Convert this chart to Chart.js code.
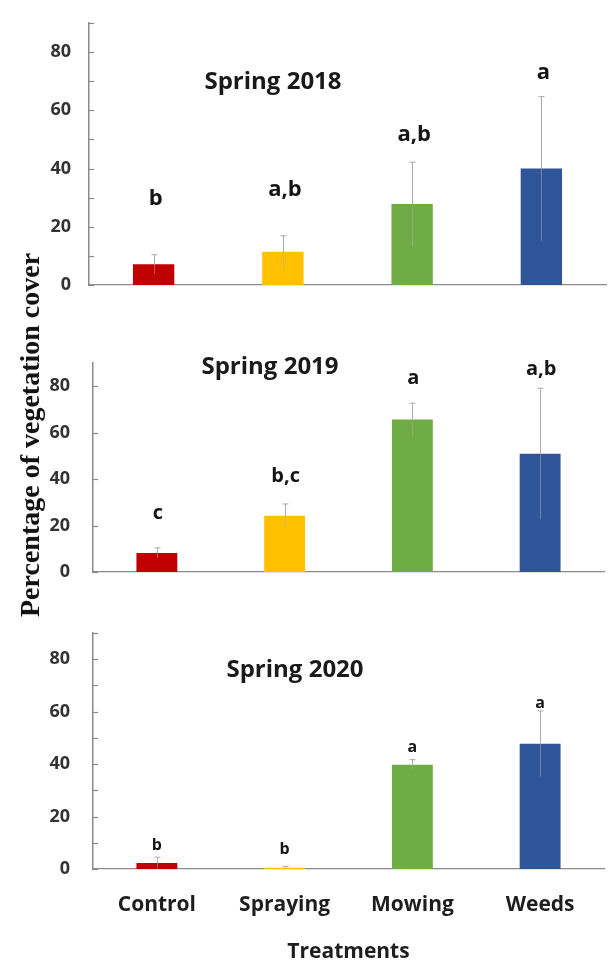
<!DOCTYPE html>
<html>
<head>
<meta charset="utf-8">
<script src="https://cdn.jsdelivr.net/npm/chart.js@4/dist/chart.umd.min.js"></script>
<style>
  html, body { margin: 0; padding: 0; background: #ffffff; }
  #page { position: relative; width: 609px; height: 965px; overflow: hidden; background: #ffffff; }
  #page canvas { position: absolute; left: 0; }
  #ytitle {
    position: absolute; left: 30px; top: 435px;
    transform: translate(-50%, -50%) rotate(-90deg);
    font: bold 28px "Liberation Serif", "Times New Roman", serif;
    color: #111111; white-space: nowrap;
  }
</style>
</head>
<body>
<div id="page">
  <canvas id="c2018" width="609" height="300" style="top:0px"></canvas>
  <canvas id="c2019" width="609" height="310" style="top:300px"></canvas>
  <canvas id="c2020" width="609" height="355" style="top:610px"></canvas>
  <div id="ytitle">Percentage of vegetation cover</div>
</div>
<script>
// Treatments and their bar colours
const treatments = ['Control', 'Spraying', 'Mowing', 'Weeds'];
const treatmentColors = ['#C00000', '#FFC000', '#6FAC46', '#2E5597'];

// Mean vegetation cover (%) and standard error per season
const cover2018 = [7.1, 11.4, 27.8, 40.0];
const error2018 = [3.3, 5.5, 14.4, 24.7];
const cover2019 = [8.2, 24.2, 65.7, 50.9];
const error2019 = [2.2, 5.1, 7.0, 28.2];
const cover2020 = [2.3, 0.5, 39.8, 47.8];
const error2020 = [2.2, 0.4, 1.9, 12.5];

// Significance groups printed above the bars
const groups2018 = ['b', 'a,b', 'a,b', 'a'];
const groups2019 = ['c', 'b,c', 'a', 'a,b'];
const groups2020 = ['b', 'b', 'a', 'a'];

// Labelled values on the cover axis
const coverTicks = [0, 20, 40, 60, 80];

// Height (in axis units) at which each group letter sits
const groupLevel2018 = [29.5, 32.6, 51.5, 72.8];
const groupLevel2019 = [25.4, 41.3, 83.4, 87.3];
const groupLevel2020 = [9.1, 7.4, 46.3, 63.3];

const SANS = '"Open Sans", "Liberation Sans", sans-serif';
const AXIS_GREY = '#8a8a8a';

// Error bars, group letters, inward tick marks and the season caption
const panelMarks = {
  id: 'panelMarks',
  afterDatasetsDraw(chart, args, opts) {
    const ctx = chart.ctx;
    const xs = chart.scales.x, ys = chart.scales.y;
    const area = chart.chartArea;
    ctx.save();

    // inward ticks every 10 units
    ctx.strokeStyle = AXIS_GREY;
    ctx.lineWidth = 1.2;
    ys.ticks.forEach(t => {
      const y = Math.round(ys.getPixelForValue(t.value)) + 0.5;
      ctx.beginPath();
      ctx.moveTo(area.left, y);
      ctx.lineTo(area.left + 5, y);
      ctx.stroke();
    });

    // error bars: capped whisker above the bar, faint stem inside it
    ctx.lineWidth = 1;
    opts.means.forEach((m, i) => {
      const x = Math.round(xs.getPixelForValue(i)) + 0.5;
      const yMean = ys.getPixelForValue(m);
      const yHi = ys.getPixelForValue(m + opts.errors[i]);
      const yLo = ys.getPixelForValue(Math.max(0, m - opts.errors[i]));
      ctx.strokeStyle = 'rgba(170,170,170,0.55)';
      ctx.beginPath();
      ctx.moveTo(x, yLo);
      ctx.lineTo(x, yMean);
      ctx.stroke();
      ctx.strokeStyle = '#a9a9a9';
      ctx.beginPath();
      ctx.moveTo(x, yMean);
      ctx.lineTo(x, yHi);
      ctx.moveTo(x - 3, yHi);
      ctx.lineTo(x + 3, yHi);
      ctx.stroke();
    });

    // group letters
    ctx.fillStyle = '#151515';
    ctx.font = 'bold ' + opts.letterSize + 'px ' + SANS;
    ctx.textAlign = 'center';
    ctx.textBaseline = 'middle';
    opts.letters.forEach((s, i) => {
      ctx.fillText(s, xs.getPixelForValue(i) + opts.letterShift, ys.getPixelForValue(opts.levels[i]));
    });

    // season caption
    ctx.font = 'bold 24px ' + SANS;
    ctx.fillStyle = '#1a1a1a';
    ctx.fillText(opts.caption, opts.captionX, opts.captionY);
    ctx.restore();
  }
};

function makePanel(id, cfg) {
  return new Chart(document.getElementById(id), {
    type: 'bar',
    data: {
      labels: treatments,
      datasets: [{
        data: cfg.means,
        backgroundColor: treatmentColors,
        borderWidth: 0,
        barPercentage: 0.32,
        categoryPercentage: 1.0
      }]
    },
    options: {
      responsive: false,
      animation: false,
      devicePixelRatio: 1,
      layout: { padding: { top: cfg.padTop, right: cfg.padRight, left: 0, bottom: 0 } },
      plugins: {
        legend: { display: false },
        tooltip: { enabled: false },
        panelMarks: {
          means: cfg.means, errors: cfg.errors, letters: cfg.letters, levels: cfg.levels,
          letterSize: cfg.letterSize, letterShift: cfg.letterShift,
          caption: cfg.caption, captionX: cfg.captionX, captionY: cfg.captionY
        }
      },
      scales: {
        x: {
          grid: { display: false, drawTicks: false },
          border: { display: true, color: AXIS_GREY, width: 1.2 },
          ticks: {
            display: cfg.showCategories,
            padding: 23,
            color: '#1e1e1e',
            font: { family: SANS, size: 21, weight: 'bold' }
          },
          title: {
            display: cfg.showCategories,
            text: 'Treatments',
            color: '#1e1e1e',
            padding: { top: 0, bottom: 0 },
            font: { family: SANS, size: 21, weight: 'bold' }
          },
          afterFit: s => {
            s.height = cfg.xHeight;
            s.paddingLeft = 0; s.paddingRight = 0;
          }
        },
        y: {
          min: 0,
          max: 90,
          grid: { display: false, drawTicks: false },
          border: { display: true, color: AXIS_GREY, width: 1.5 },
          ticks: {
            stepSize: 10,
            padding: cfg.tickPad,
            color: '#333333',
            font: { family: SANS, size: 18, weight: 'bold' },
            callback: v => (coverTicks.includes(v) ? String(v) : '')
          },
          afterFit: s => {
            s.width = cfg.yWidth;
            s.paddingTop = 0; s.paddingBottom = 0;
          }
        }
      }
    },
    plugins: [panelMarks]
  });
}

makePanel('c2018', {
  means: cover2018, errors: error2018, letters: groups2018, levels: groupLevel2018,
  letterSize: 22, letterShift: 2,
  caption: 'Spring 2018', captionX: 273, captionY: 82,
  padTop: 23, padRight: 3, xHeight: 15, yWidth: 89, tickPad: 18,
  showCategories: false
});

makePanel('c2019', {
  means: cover2019, errors: error2019, letters: groups2019, levels: groupLevel2019,
  letterSize: 20, letterShift: 1,
  caption: 'Spring 2019', captionX: 270, captionY: 67,
  padTop: 63, padRight: 5, xHeight: 38, yWidth: 93, tickPad: 23,
  showCategories: false
});

makePanel('c2020', {
  means: cover2020, errors: error2020, letters: groups2020, levels: groupLevel2020,
  letterSize: 16, letterShift: 0,
  caption: 'Spring 2020', captionX: 295, captionY: 60,
  padTop: 23, padRight: 5, xHeight: 96, yWidth: 93, tickPad: 23,
  showCategories: true
});
</script>
</body>
</html>
